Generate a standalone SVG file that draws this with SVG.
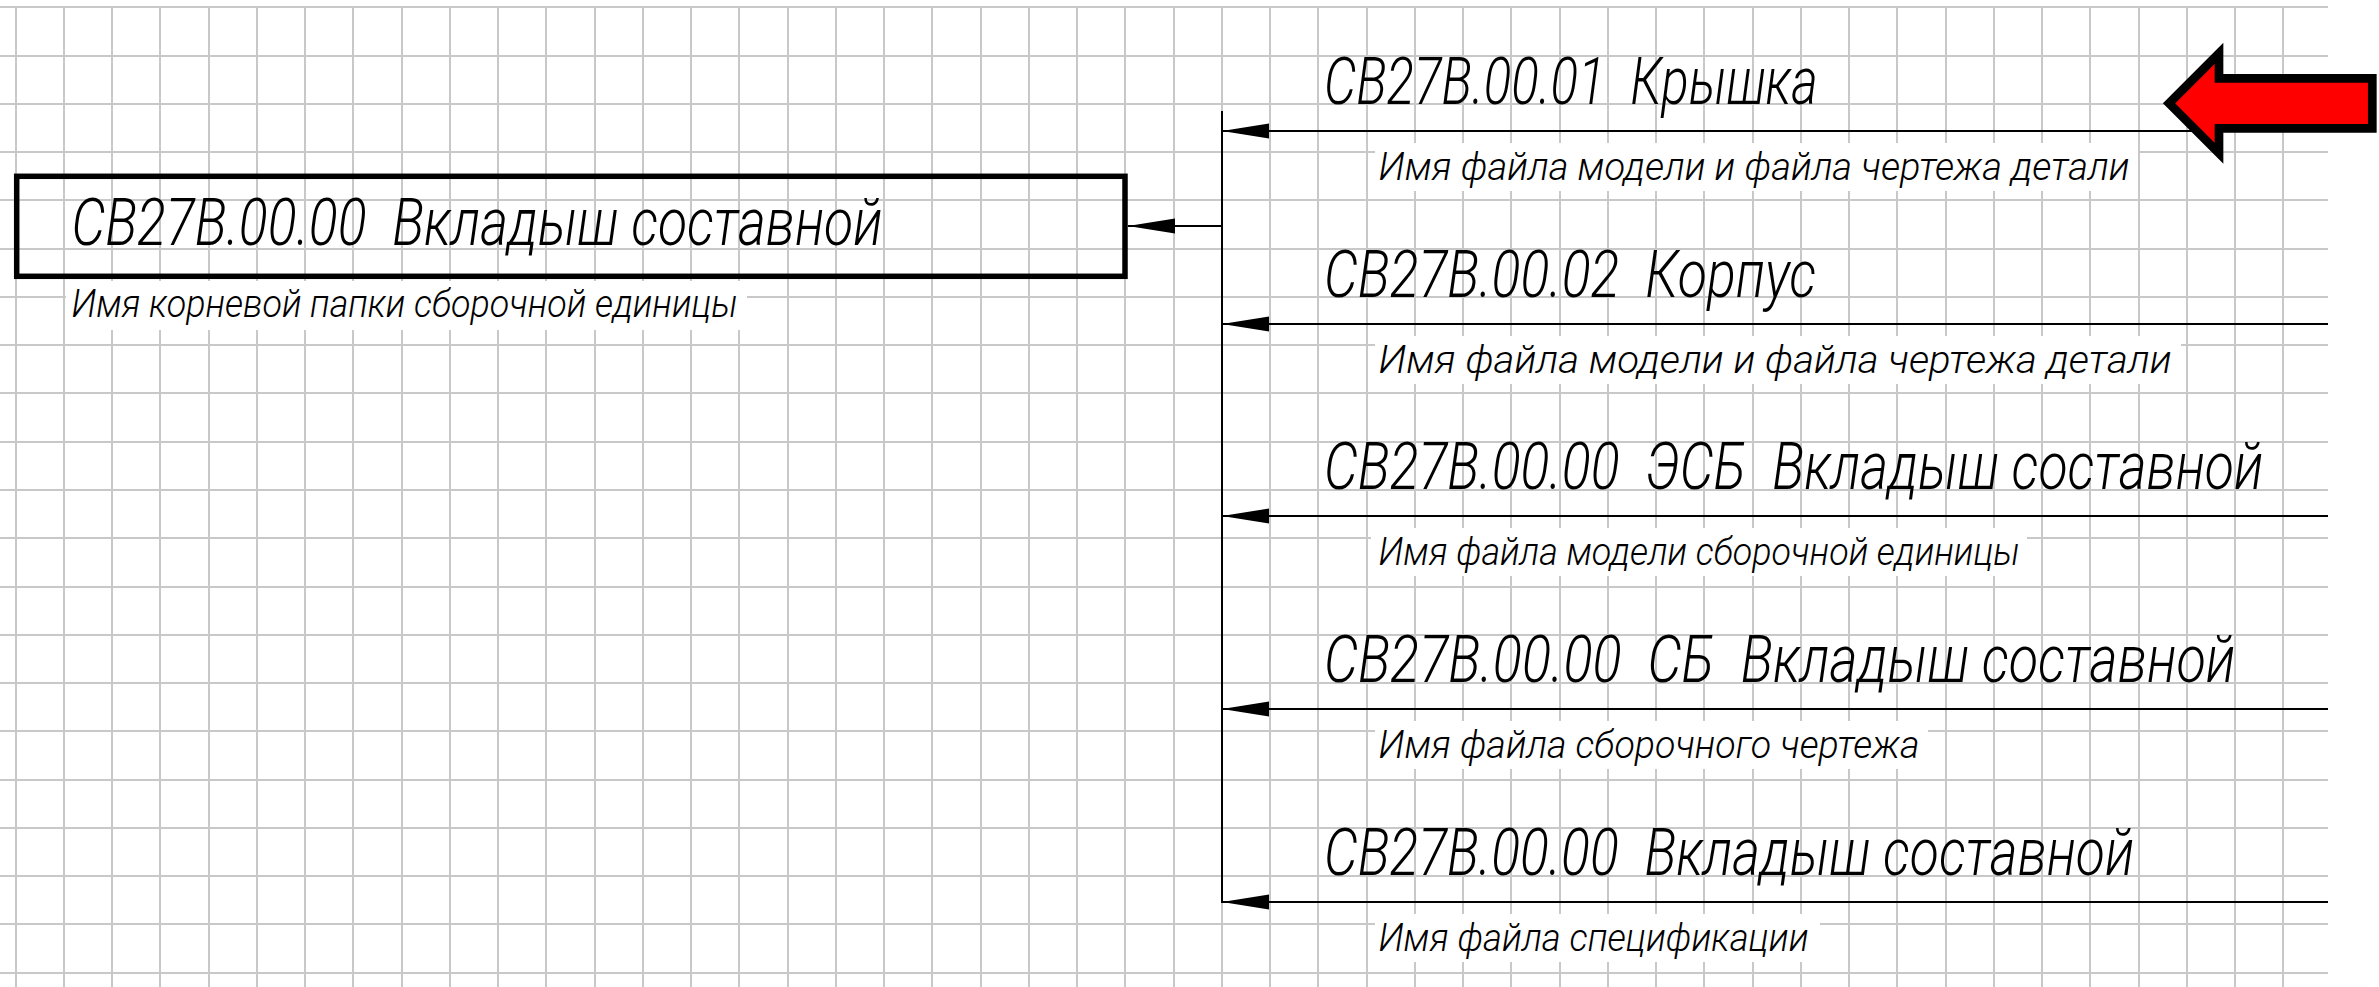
<svg xmlns="http://www.w3.org/2000/svg" width="2379" height="987" viewBox="0 0 2379 987">
<style>
.grid{stroke:#c8c8c8;stroke-width:2;fill:none}
.t{font-family:Roboto,"Liberation Sans","DejaVu Sans",sans-serif;font-style:italic;font-weight:300;fill:#000;white-space:pre}
.title{font-size:66px}
.sub{font-size:38.5px}
.bg{fill:#fff}
.conn{stroke:#000;stroke-width:2;fill:none}
.box{fill:none;stroke:#000;stroke-width:5.5}
</style>
<defs>
<marker id="ah" markerUnits="userSpaceOnUse" viewBox="-50 -10 52 20" refX="0" refY="0" markerWidth="52" markerHeight="20" orient="auto">
<path d="M0,0 L-47,-7.5 L-47,7.5 Z" fill="#000"/>
</marker>
</defs>
<rect width="2379" height="987" fill="#fff"/>
<g id="grid">
<path class="grid" d="M16,7V987M64,7V987M112,7V987M160,7V987M209,7V987M257,7V987M305,7V987M353,7V987M402,7V987M450,7V987M498,7V987M546,7V987M595,7V987M643,7V987M691,7V987M739,7V987M788,7V987M836,7V987M884,7V987M932,7V987M981,7V987M1029,7V987M1077,7V987M1125,7V987M1174,7V987M1222,7V987M1270,7V987M1318,7V987M1367,7V987M1415,7V987M1463,7V987M1511,7V987M1560,7V987M1608,7V987M1656,7V987M1704,7V987M1753,7V987M1801,7V987M1849,7V987M1897,7V987M1946,7V987M1994,7V987M2042,7V987M2090,7V987M2139,7V987M2187,7V987M2235,7V987M2283,7V987"/>
<path class="grid" d="M0,7H2328M0,56H2328M0,104H2328M0,152H2328M0,200H2328M0,249H2328M0,297H2328M0,345H2328M0,393H2328M0,442H2328M0,490H2328M0,538H2328M0,587H2328M0,635H2328M0,683H2328M0,731H2328M0,780H2328M0,828H2328M0,876H2328M0,924H2328M0,973H2328"/>
</g>
<g id="connectors">
<line class="conn" x1="1222" y1="111" x2="1222" y2="903" stroke-width="2.2"/>
<line class="conn" x1="1222" y1="226" x2="1128" y2="226" marker-end="url(#ah)"/>
<line class="conn" x1="2328" y1="131" x2="1222" y2="131" marker-end="url(#ah)"/>
<line class="conn" x1="2328" y1="324" x2="1222" y2="324" marker-end="url(#ah)"/>
<line class="conn" x1="2328" y1="516" x2="1222" y2="516" marker-end="url(#ah)"/>
<line class="conn" x1="2328" y1="709" x2="1222" y2="709" marker-end="url(#ah)"/>
<line class="conn" x1="2328" y1="902" x2="1222" y2="902" marker-end="url(#ah)"/>
</g>
<g id="node-root">
<rect class="box" x="16.7" y="176.3" width="1108.3" height="100"/>
<text class="t title" transform="translate(71.5,245) scale(0.85,1)" x="0" y="0" textLength="954" lengthAdjust="spacingAndGlyphs">СВ27В.00.00  Вкладыш составной</text>
<rect class="bg" x="66" y="281" width="681" height="49"/>
<text class="t sub" x="71.5" y="317" textLength="666" lengthAdjust="spacingAndGlyphs">Имя корневой папки сборочной единицы</text>
</g>
<g id="node-1">
<text class="t title" transform="translate(1324,103.5) scale(0.85,1)" x="0" y="0" textLength="581" lengthAdjust="spacingAndGlyphs">СВ27В.00.01  Крышка</text>
<rect class="bg" x="1375" y="143" width="763" height="48"/>
<text class="t sub" x="1378.5" y="180" textLength="751" lengthAdjust="spacingAndGlyphs">Имя файла модели и файла чертежа детали</text>
</g>
<g id="node-2">
<text class="t title" transform="translate(1324,296.5) scale(0.85,1)" x="0" y="0" textLength="579" lengthAdjust="spacingAndGlyphs">СВ27В.00.02  Корпус</text>
<rect class="bg" x="1375" y="336" width="806" height="48"/>
<text class="t sub" x="1378.5" y="373" textLength="793" lengthAdjust="spacingAndGlyphs">Имя файла модели и файла чертежа детали</text>
</g>
<g id="node-3">
<text class="t title" transform="translate(1324,488.5) scale(0.85,1)" x="0" y="0" textLength="1105" lengthAdjust="spacingAndGlyphs">СВ27В.00.00  ЭСБ  Вкладыш составной</text>
<rect class="bg" x="1371" y="528" width="656" height="48"/>
<text class="t sub" x="1378.5" y="565" textLength="641" lengthAdjust="spacingAndGlyphs">Имя файла модели сборочной единицы</text>
</g>
<g id="node-4">
<text class="t title" transform="translate(1324,681.5) scale(0.85,1)" x="0" y="0" textLength="1072" lengthAdjust="spacingAndGlyphs">СВ27В.00.00  СБ  Вкладыш составной</text>
<rect class="bg" x="1375" y="721" width="553" height="48"/>
<text class="t sub" x="1378.5" y="758" textLength="541" lengthAdjust="spacingAndGlyphs">Имя файла сборочного чертежа</text>
</g>
<g id="node-5">
<text class="t title" transform="translate(1324,874.5) scale(0.85,1)" x="0" y="0" textLength="953" lengthAdjust="spacingAndGlyphs">СВ27В.00.00  Вкладыш составной</text>
<rect class="bg" x="1375" y="914" width="445" height="48"/>
<text class="t sub" x="1378.5" y="951" textLength="430" lengthAdjust="spacingAndGlyphs">Имя файла спецификации</text>
</g>
<g id="red-arrow">
<path d="M2169,103.3 L2219,53.3 L2219,78.4 L2372.3,78.4 L2372.3,128.3 L2219,128.3 L2219,153.3 Z" fill="#ff0000" stroke="#000" stroke-width="8.7"/>
</g>
</svg>
